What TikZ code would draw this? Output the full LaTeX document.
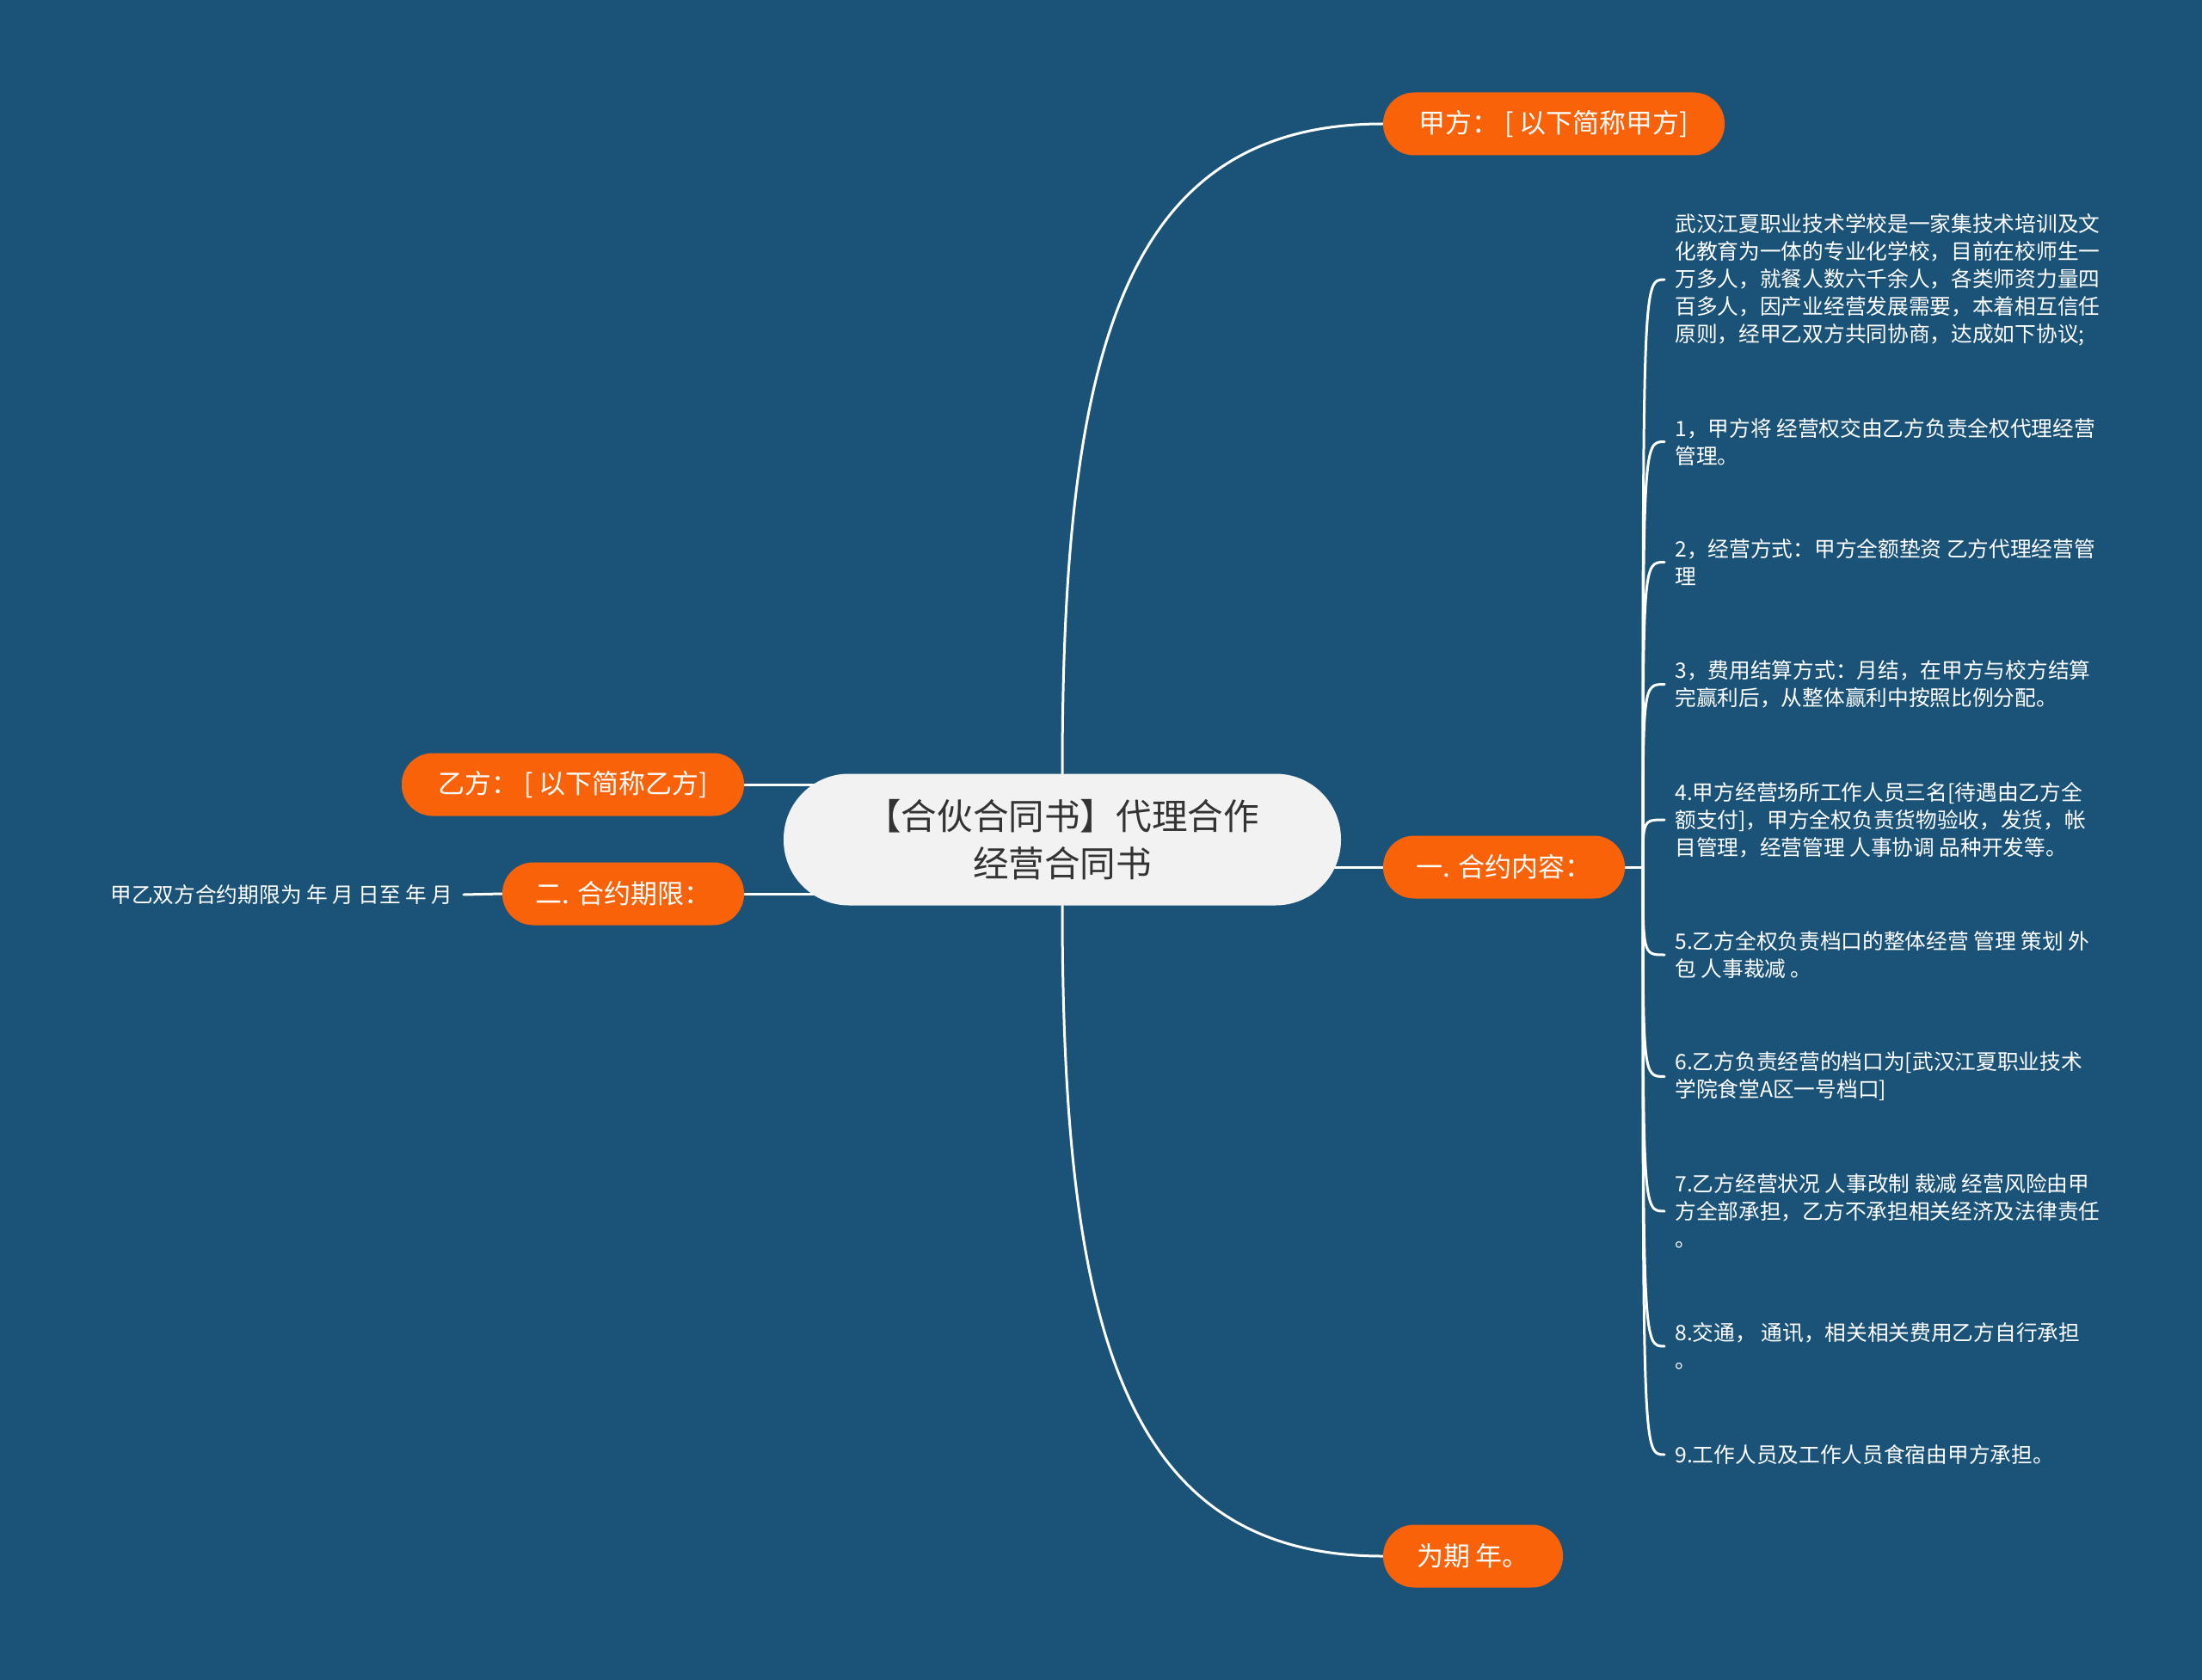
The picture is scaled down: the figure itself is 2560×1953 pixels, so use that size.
\documentclass[tikz,border=0pt]{standalone}
\usepackage{fontspec}
\setmainfont{Noto Sans CJK SC}
\usetikzlibrary{positioning,calc}
\definecolor{cBack}{RGB}{26,83,119}
\definecolor{cOrange}{RGB}{250,98,10}
\definecolor{cRoot}{RGB}{242,242,242}
\definecolor{cInk}{RGB}{51,51,51}
\pgfdeclarelayer{back}
\pgfdeclarelayer{links}
\pgfsetlayers{back,links,main}

\begin{document}
\begin{tikzpicture}[x=0.5pt, y=-0.5pt,
  topic/.style={rectangle, rounded corners=38pt, fill=cRoot, text=cInk, align=center,
    minimum width=324pt, minimum height=76.5pt, inner sep=0pt,
    font=\fontsize{20.8}{27.5}\selectfont},
  branch/.style={rectangle, rounded corners=18pt, fill=cOrange, text=white,
    minimum height=36.5pt, inner sep=0pt, font=\fontsize{15.5}{18}\selectfont},
  leaf/.style={anchor=west, align=left, text=white, inner xsep=6pt, inner ysep=0pt,
    font=\fontsize{12.35}{16}\selectfont},
  link/.style={draw=white!94!cRoot, line width=1.5pt, line cap=round},
]
\begin{pgfonlayer}{back}
  \fill[cBack] (0,0) rectangle (2560,1953);
\end{pgfonlayer}

\node[topic] (root) at (1235,976) {【合伙合同书】代理合作\\经营合同书};

\node[branch, minimum width=198.5pt] (jia) at (1806.5,144) {甲方： [ 以下简称甲方]};
\node[branch, minimum width=140.5pt] (content) at (1748.5,1008) {一. 合约内容：};
\node[branch, minimum width=104.5pt] (term) at (1712.5,1809) {为期 年。};
\node[branch, minimum width=199pt] (yi) at (666,912) {乙方： [ 以下简称乙方]};
\node[branch, minimum width=140.5pt] (period) at (724.5,1039) {二. 合约期限：};

\node[leaf, anchor=east] (limit) at (539,1040) {甲乙双方合约期限为\ 年\ 月\ 日至\ 年\ 月};

\coordinate (J) at (1910,1008);
\node[leaf] (i0) at (1935,325) {武汉江夏职业技术学校是一家集技术培训及文\\化教育为一体的专业化学校，目前在校师生一\\万多人，就餐人数六千余人，各类师资力量四\\百多人，因产业经营发展需要，本着相互信任\\原则，经甲乙双方共同协商，达成如下协议;};
\node[leaf] (i1) at (1935,513.5) {1，甲方将 经营权交由乙方负责全权代理经营\\管理。};
\node[leaf] (i2) at (1935,653.5) {2，经营方式：甲方全额垫资 乙方代理经营管\\理};
\node[leaf] (i3) at (1935,795.5) {3，费用结算方式：月结，在甲方与校方结算\\完赢利后，从整体赢利中按照比例分配。};
\node[leaf] (i4) at (1935,953) {4.甲方经营场所工作人员三名[待遇由乙方全\\额支付]，甲方全权负责货物验收，发货，帐\\目管理，经营管理 人事协调 品种开发等。};
\node[leaf] (i5) at (1935,1110) {5.乙方全权负责档口的整体经营 管理 策划 外\\包 人事裁减 。};
\node[leaf] (i6) at (1935,1251.5) {6.乙方负责经营的档口为[武汉江夏职业技术\\学院食堂A区一号档口]};
\node[leaf] (i7) at (1935,1408) {7.乙方经营状况 人事改制 裁减 经营风险由甲\\方全部承担，乙方不承担相关经济及法律责任\\。};
\node[leaf] (i8) at (1935,1565) {8.交通， 通讯，相关相关费用乙方自行承担\\。};
\node[leaf] (i9) at (1935,1691) {9.工作人员及工作人员食宿由甲方承担。};

\begin{pgfonlayer}{links}
  % main curves out of the root
  \draw[link] (root.north) .. controls ($(root.north)!0.65!(root.north |- jia.west)$)
    and ($(root.north |- jia.west)!0.19!(jia.west)$) .. (jia.west);
  \draw[link] (root.south) .. controls ($(root.south)!0.65!(root.south |- term.west)$)
    and ($(root.south |- term.west)!0.19!(term.west)$) .. (term.west);
  \draw[link] (root.center |- content.west) -- (content.west);
  \draw[link] (yi.east) -- (yi.east -| root.center);
  \draw[link] (period.east) -- (period.east -| root.center);
  \draw[link] (period.west) -- (limit.east);
  % bracket of the contract items
  \draw[link] (content.east) -- (J);
  \draw[link] (J) .. controls (J |- i0.west) and (J |- i0.west) .. (i0.west);
  \draw[link] (J) .. controls (J |- i1.west) and (J |- i1.west) .. (i1.west);
  \draw[link] (J) .. controls (J |- i2.west) and (J |- i2.west) .. (i2.west);
  \draw[link] (J) .. controls (J |- i3.west) and (J |- i3.west) .. (i3.west);
  \draw[link] (J) .. controls (J |- i4.west) and (J |- i4.west) .. (i4.west);
  \draw[link] (J) .. controls (J |- i5.west) and (J |- i5.west) .. (i5.west);
  \draw[link] (J) .. controls (J |- i6.west) and (J |- i6.west) .. (i6.west);
  \draw[link] (J) .. controls (J |- i7.west) and (J |- i7.west) .. (i7.west);
  \draw[link] (J) .. controls (J |- i8.west) and (J |- i8.west) .. (i8.west);
  \draw[link] (J) .. controls (J |- i9.west) and (J |- i9.west) .. (i9.west);
\end{pgfonlayer}
\end{tikzpicture}
\end{document}
